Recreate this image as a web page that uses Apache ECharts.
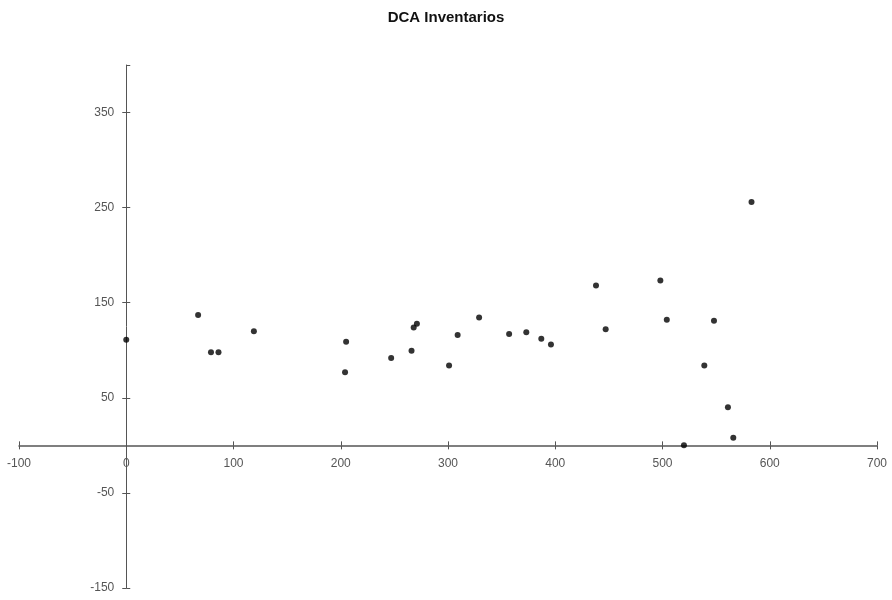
<!DOCTYPE html>
<html>
<head>
<meta charset="utf-8">
<script src="https://cdn.jsdelivr.net/npm/echarts@6/dist/echarts.min.js"></script>
<style>html,body{margin:0;padding:0;background:#fff}#c{width:892px;height:600px}</style>
</head>
<body>
<div id="c"></div>
<script>
const chartTitle = "DCA Inventarios";
const xValues = [0, 67, 79, 86, 119, 204, 205, 247, 266, 268, 271, 301, 309, 329, 357, 373, 387, 396, 438, 447, 498, 504, 520, 539, 548, 561, 566, 583];
const yValues = [111, 137, 98, 98, 120, 77, 109, 92, 99.5, 124, 128, 84, 116, 134.5, 117, 119, 112, 106, 168, 122, 173.5, 132, 0, 84, 131, 40, 8, 256];
const xRange = [-100, 700, 100];
const yRange = [-150, 400, 100];

const points = xValues.map((x, i) => [x, yValues[i]]);
const chart = echarts.init(document.getElementById('c'), null, {renderer: 'canvas'});
const axisColor = '#555';
const labelStyle = {color: '#555', fontSize: 12, fontFamily: 'Liberation Sans, Arial, sans-serif'};
const G = {left: 19, right: 15, top: 65, bottom: 12};

function xAxisDef(inside, showLine, showLabel) {
  return {
    type: 'value', min: xRange[0], max: xRange[1], interval: xRange[2],
    position: 'bottom', offset: 0,
    splitLine: {show: false},
    axisLine: {show: showLine, onZero: false, lineStyle: {color: axisColor, width: 1.5}},
    axisTick: {show: true, length: 4, inside: inside, lineStyle: {color: axisColor}},
    axisLabel: Object.assign({show: showLabel, margin: 12}, labelStyle)
  };
}
function yAxisDef(inside, showLine, showLabel) {
  return {
    type: 'value', min: yRange[0], max: yRange[1], interval: yRange[2],
    position: 'left', offset: 0,
    splitLine: {show: false},
    axisLine: {show: showLine, onZero: false, lineStyle: {color: axisColor, width: 1}},
    axisTick: {show: true, length: 4, inside: inside, lineStyle: {color: axisColor}},
    axisLabel: Object.assign({show: showLabel, margin: 12, showMaxLabel: false}, labelStyle)
  };
}

chart.setOption({
  animation: false,
  backgroundColor: '#fff',
  title: {
    text: chartTitle, left: 'center', top: 5,
    textStyle: {fontSize: 15, fontWeight: 'bold', color: '#111', fontFamily: 'Liberation Sans, Arial, sans-serif'}
  },
  grid: Object.assign({containLabel: false, outerBoundsMode: 'none'}, G),
  xAxis: [xAxisDef(false, true, true), xAxisDef(true, false, false)],
  yAxis: [yAxisDef(false, true, true), yAxisDef(true, false, false)],
  series: [{
    type: 'scatter',
    xAxisIndex: 0, yAxisIndex: 0,
    data: points,
    symbol: 'circle',
    symbolSize: 6,
    itemStyle: {color: '#000'}
  }]
});

// move the axes so they cross at the origin (labels included)
const origin = chart.convertToPixel({xAxisIndex: 0, yAxisIndex: 0}, [0, 0]);
const bottomPx = chart.getHeight() - G.bottom;
const xOff = -(bottomPx - origin[1]);
const yOff = -(origin[0] - G.left);
chart.setOption({
  xAxis: [{offset: xOff}, {offset: xOff}],
  yAxis: [{offset: yOff}, {offset: yOff}]
});
</script>
</body>
</html>
